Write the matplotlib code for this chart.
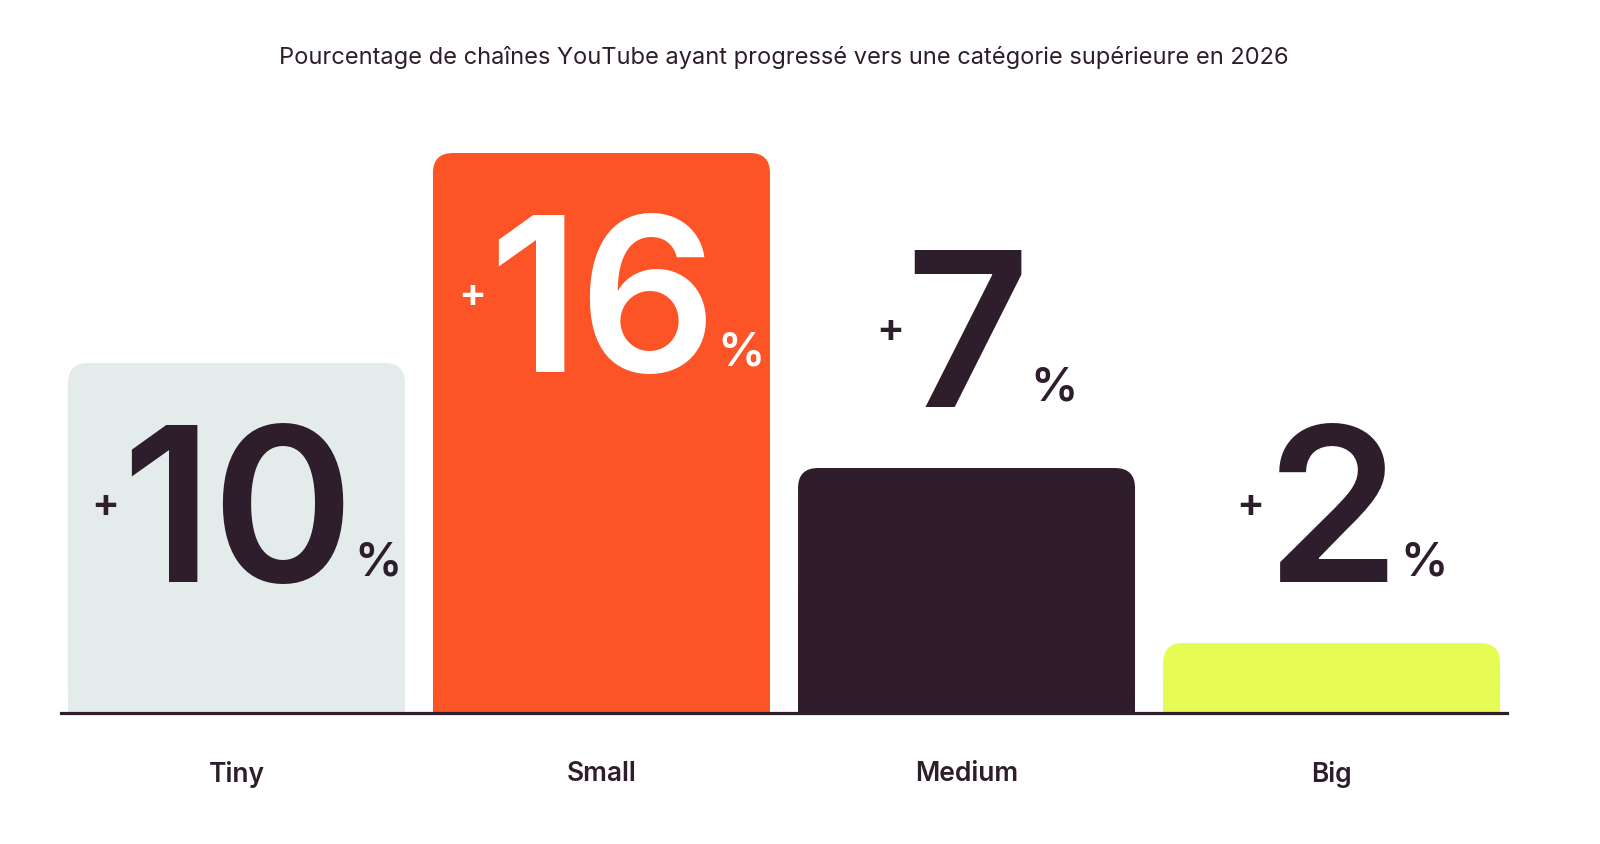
import numpy as np
import matplotlib
matplotlib.use("Agg")
import matplotlib.pyplot as plt
from matplotlib.patches import FancyBboxPatch, Rectangle

categories = ["Tiny", "Small", "Medium", "Big"]
values = [10, 16, 7, 2]
bar_colors = ["#e4ebeb", "#fc5427", "#2f1d2c", "#e6fc55"]
label_colors = ["#2e1d2b", "#ffffff", "#2e1d2b", "#2e1d2b"]
title = "Pourcentage de chaînes YouTube ayant progressé vers une catégorie supérieure en 2026"

dark = "#2e1d2b"
plt.rcParams['font.family'] = ['Inter', 'DejaVu Sans']

fig = plt.figure(figsize=(16, 8.45), dpi=100)
ax = fig.add_axes([0.038, 0.155, 0.904, 0.7456])
ax.set_xlim(-0.481, 3.481)
ax.set_ylim(0, 18)

# pixels per data unit (x and y)
px_x = 0.904 * 1600 / (3.481 + 0.481)
px_y = 0.7456 * 845 / 18
width = 337 / px_x
r = 20 / px_x
aspect = px_x / px_y

x = np.arange(len(categories))
for xi, v, c in zip(x, values, bar_colors):
    rounded = FancyBboxPatch((xi - width / 2, 0), width, v,
                             boxstyle="round,pad=0,rounding_size=%f" % r,
                             mutation_aspect=aspect, fc=c, ec="none", zorder=2)
    ax.add_patch(rounded)
    ax.add_patch(Rectangle((xi - width / 2, 0), width, v / 2, fc=c, ec="none", zorder=2))

ax.axhline(0, color=dark, lw=2.3, zorder=3, clip_on=False)

cap = 158 / px_y
for xi, v, tc in zip(x, values, label_colors):
    if v > 8:
        base = v - 60 / px_y - cap
    else:
        base = v + 62 / px_y
    num = ax.text(xi + 1 / px_x, base, str(v), ha="center", va="baseline",
                  fontsize=155, fontweight="semibold", color=tc, zorder=4)
    ax.annotate("+", xy=(0, base + cap / 2), xycoords=(num, "data"), xytext=(-1, 0),
                textcoords="offset points", ha="right", va="center_baseline",
                fontsize=30, fontweight="semibold", color=tc, zorder=4)
    ax.annotate("%", xy=(1, base), xycoords=(num, "data"), xytext=(0.5, 5),
                textcoords="offset points", ha="left", va="baseline",
                fontsize=34, fontweight="semibold", color=tc, zorder=4)

ax.set_xticks(x)
ax.set_xticklabels(categories, fontsize=19, fontweight="semibold", color=dark)
ax.tick_params(axis="x", length=0, pad=34)
ax.set_yticks([])
for s in ax.spines.values():
    s.set_visible(False)

ax.set_title(title, fontsize=17, color=dark, pad=0, y=1.0 + 20 / (0.7456 * 845))

fig.savefig("out.png", dpi=100, facecolor="white")
